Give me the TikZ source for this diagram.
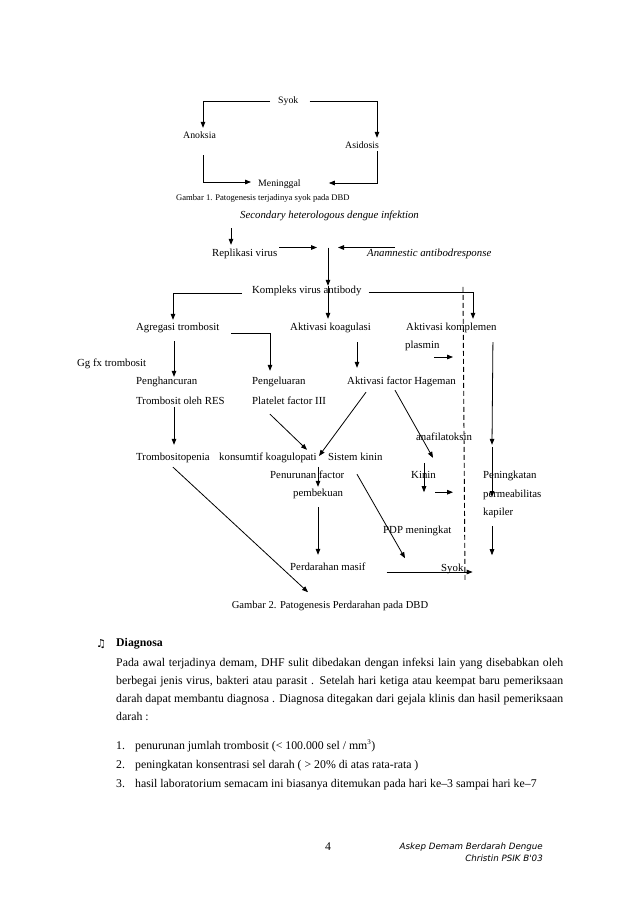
\documentclass[tikz,border=0pt]{standalone}
\usepackage{fontspec}
\setmainfont{Liberation Serif}
\newfontfamily\symfont{DejaVu Sans}
\newfontfamily\footfont{DejaVu Sans}
\usetikzlibrary{arrows.meta}

\begin{document}
\begin{tikzpicture}[x=1pt, y=-1pt,
        lbl/.style={inner sep=0pt, anchor=west, text height=7.5pt, text depth=2.5pt, font=\fontsize{10.8}{13}\selectfont},
        lblone/.style={lbl, font=\fontsize{9.8}{12}\selectfont},
        lblit/.style={lbl, font=\fontsize{10.8}{13}\selectfont\itshape},
        body/.style={inner sep=0pt, anchor=base west, font=\fontsize{11.8}{14}\selectfont},
        foot/.style={inner sep=0pt, anchor=base east, font=\footfont\itshape\fontsize{8.7}{10}\selectfont},
        conn/.style={line width=0.8pt, -{Triangle[length=6pt,width=4.6pt]}}
    ]
        \path[use as bounding box, fill=white] (0,0) rectangle (638,903);

        \node[lblone] (syok) at (278,101) {Syok};
        \node[lblone] (anoksia) at (183,136) {Anoksia};
        \node[lblone] (asidosis) at (345,146) {Asidosis};
        \node[lblone] (meninggal) at (258,184) {Meninggal};
        \node[lbl, font=\fontsize{8.6}{10}\selectfont] (gambar1) at (176,198) {Gambar 1. Patogenesis terjadinya syok pada DBD};

        \draw[conn, shorten <=8pt, shorten >=3pt] (syok.west) -| ([xshift=20pt]anoksia.north west);
        \draw[conn, shorten <=11pt, shorten >=3pt] (syok.east) -| ([xshift=32pt]asidosis.north west);
        \draw[conn, shorten <=14pt, shorten >=7pt] ([xshift=20pt]anoksia.south west) |- ([yshift=2pt]meninggal.west);
        \draw[conn, shorten >=28pt] ([xshift=32pt]asidosis.south west) |- ([yshift=1pt]meninggal.east);

        \node[lblit] (secondary) at (240,216) {Secondary heterologous dengue infektion};
        \node[lbl] (replikasi) at (212,254) {Replikasi virus};
        \node[lblit] (anamnestic) at (367,254) {Anamnestic antibodresponse};
        \coordinate (junc) at (328,247.5);
        \node[lbl] (kompleks) at (252,291) {Kompleks virus antibody};
        \node[lbl] (agregasi) at (136,328) {Agregasi trombosit};
        \node[lbl] (koagulasi) at (290,328) {Aktivasi koagulasi};
        \node[lbl] (komplemen) at (406,328) {Aktivasi komplemen};
        \node[lbl] (plasmin) at (405,346) {plasmin};
        \node[lbl] (ggfx) at (77,364) {Gg fx trombosit};
        \node[lbl] (penghancuran) at (136,382) {Penghancuran};
        \node[lbl] (trombres) at (136,402) {Trombosit oleh RES};
        \node[lbl] (pengeluaran) at (252,382) {Pengeluaran};
        \node[lbl] (platelet) at (252,402) {Platelet factor III};
        \node[lbl] (hageman) at (347,382) {Aktivasi factor Hageman};
        \node[lbl] (anafilatoksin) at (416,438) {anafilatoksin};
        \node[lbl] (trombositopenia) at (136,458) {Trombositopenia};
        \node[lbl] (konsumtif) at (219,458) {konsumtif koagulopati};
        \node[lbl] (sistem) at (328,458) {Sistem kinin};
        \node[lbl] (kinin) at (411,476) {Kinin};
        \node[lbl] (penurunan) at (270,476) {Penurunan factor};
        \node[lbl] (pembekuan) at (293,494) {pembekuan};
        \node[lbl] (peningkatan) at (483,476) {Peningkatan};
        \node[lbl] (permeabilitas) at (483,495) {permeabilitas};
        \node[lbl] (kapiler) at (483,513) {kapiler};
        \node[lbl] (pdp) at (383,531) {PDP meningkat};
        \node[lbl] (perdarahan) at (290,568) {Perdarahan masif};
        \node[lbl] (syokb) at (441,569) {Syok};
        \node[lbl, anchor=center, font=\fontsize{10.6}{13}\selectfont] (gambar2) at (330,606) {Gambar 2. Patogenesis Perdarahan pada DBD};

        \draw[conn, shorten >=4pt] ([xshift=-9pt,yshift=-7pt]secondary.south west) -- ([xshift=19pt]replikasi.north west);
        \draw[conn, shorten <=2pt, shorten >=11pt] ([yshift=6.5pt]replikasi.east) -- (junc);
        \draw[conn, shorten >=10pt] ([xshift=28pt,yshift=6.5pt]anamnestic.west) -- (junc);
        \draw[conn] (junc) -- ([xshift=76pt]kompleks.north west);
        \draw[conn, shorten >=4pt] ([xshift=76pt]kompleks.north west) -- ([xshift=38pt]koagulasi.north west);
        \draw[conn, shorten <=10pt, shorten >=3pt] ([yshift=-2pt]kompleks.west) -| ([xshift=37pt]agregasi.north west);
        \draw[conn, shorten <=7pt, shorten >=4pt] ([yshift=-1pt]kompleks.east) -| ([xshift=67pt]komplemen.north west);
        \draw[conn, shorten <=12pt, shorten >=6pt] ([yshift=-5pt]agregasi.east) -| ([xshift=18pt]pengeluaran.north west);
        \draw[conn, shorten <=8pt] ([xshift=38pt]agregasi.south west) -- ([xshift=38pt]penghancuran.north west);
        \draw[conn, shorten <=9pt, shorten >=9pt] ([xshift=67pt]koagulasi.south west) -- ([xshift=10pt]hageman.north west);
        \draw[conn] ([xshift=29pt,yshift=-11pt]plasmin.west) -- ++(19,0);
        \draw[conn, shorten <=9pt] ([xshift=87pt]komplemen.south west) -- ([xshift=9pt,yshift=26pt]peningkatan.north west);
        \draw[conn] ([xshift=9pt,yshift=24pt]peningkatan.north west) -- ([xshift=9pt,yshift=-2pt]permeabilitas.west);
        \draw[conn] ([xshift=9pt,yshift=-8pt]kapiler.south west) -- ([xshift=9pt,yshift=-37pt]kapiler.south west);
        \draw[conn, shorten >=8pt] ([xshift=38pt]trombres.south west) -- ([xshift=38pt]trombositopenia.north west);
        \draw[conn] ([xshift=19pt,yshift=-5pt]hageman.south west) -- ([xshift=-9pt,yshift=2pt]sistem.west);
        \draw[conn] ([xshift=48pt,yshift=-3pt]hageman.south west) -- ([xshift=22pt,yshift=13pt]kinin.north west);
        \draw[conn] ([xshift=18pt,yshift=-7pt]platelet.south west) -- ([xshift=88pt,yshift=3pt]konsumtif.north west);
        \draw[conn, shorten >=2pt] ([xshift=48pt,yshift=4pt]penurunan.north west) -- ([xshift=25pt]pembekuan.north west);
        \draw[conn, shorten <=8pt, shorten >=8pt] ([xshift=25pt]pembekuan.south west) -- ([xshift=28pt]perdarahan.north west);
        \draw[conn] ([xshift=37pt,yshift=-4pt]trombositopenia.south west) -- ([xshift=18pt,yshift=-19pt]perdarahan.south west);
        \draw[conn] ([xshift=29pt,yshift=-11pt]sistem.south west) -- ([xshift=22pt,yshift=-22pt]pdp.south west);
        \draw[conn, shorten <=21pt] ([yshift=-4pt]perdarahan.east) -- ([xshift=9pt,yshift=-3pt]syokb.east);
        \draw[conn] ([xshift=13pt,yshift=8pt]kinin.north west) -- ([xshift=13pt,yshift=-11pt]kinin.south west);
        \draw[conn] ([xshift=24pt,yshift=-11pt]kinin.south west) -- ++(18,0);
        \draw[line width=0.9pt, dash pattern=on 5pt off 3pt] ([xshift=57pt,yshift=36pt]komplemen.north west) -- ([xshift=24pt,yshift=-7pt]syokb.south west);

        \node[inner sep=0pt, anchor=base, font=\symfont\fontsize{11}{13}\selectfont] (note) at (101,647) {♫};
        \node[body, font=\fontsize{11.8}{14}\selectfont\bfseries] (diagnosa) at (116,646) {Diagnosa};
        \node[body] (para1) at (116,666) {\makebox[447pt][s]{Pada awal terjadinya demam, DHF sulit dibedakan dengan infeksi lain yang disebabkan oleh}};
        \node[body] (para2) at (116,684) {\makebox[447pt][s]{berbegai jenis virus, bakteri atau parasit . Setelah hari ketiga atau keempat baru pemeriksaan}};
        \node[body] (para3) at (116,702) {\makebox[447pt][s]{darah dapat membantu diagnosa . Diagnosa ditegakan dari gejala klinis dan hasil pemeriksaan}};
        \node[body] (para4) at (116,720) {darah :};
        \node[body] (num1) at (116,749) {1.};
        \node[body] (item1) at (135,749) {penurunan jumlah trombosit (< 100.000 sel / mm\textsuperscript{\fontsize{7}{8}\selectfont 3})};
        \node[body] (num2) at (116,768) {2.};
        \node[body] (item2) at (135,768) {peningkatan konsentrasi sel darah ( > 20\% di atas rata-rata )};
        \node[body] (num3) at (116,787) {3.};
        \node[body] (item3) at (135,787) {hasil laboratorium semacam ini biasanya ditemukan pada hari ke--3 sampai hari ke--7};

        \node[body, anchor=base] (pagenum) at (328,850) {4};
        \node[foot] (foot1) at (543,849) {Askep Demam Berdarah Dengue};
        \node[foot] (foot2) at (543,861) {Christin PSIK B'03};
    \end{tikzpicture}
\end{document}
